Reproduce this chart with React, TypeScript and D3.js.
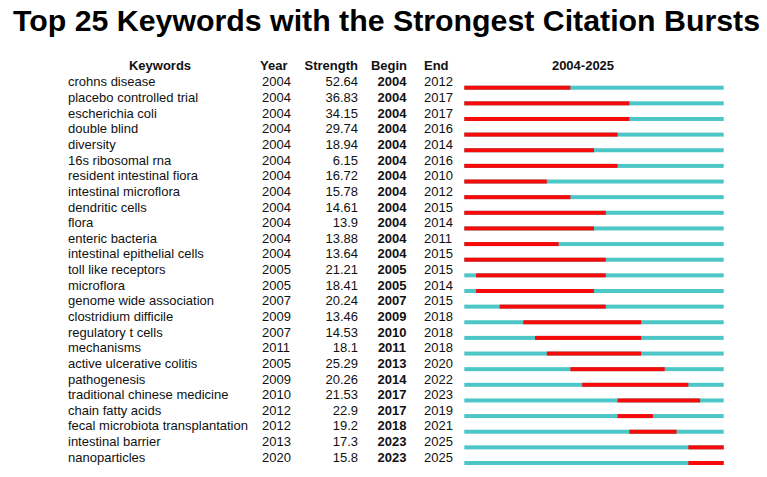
import { useEffect, useRef } from 'react';
import * as d3 from 'd3';

const keywords = [
  'crohns disease', 'placebo controlled trial', 'escherichia coli', 'double blind', 'diversity',
  '16s ribosomal rna', 'resident intestinal fiora', 'intestinal microflora', 'dendritic cells', 'flora',
  'enteric bacteria', 'intestinal epithelial cells', 'toll like receptors', 'microflora',
  'genome wide association', 'clostridium difficile', 'regulatory t cells', 'mechanisms',
  'active ulcerative colitis', 'pathogenesis', 'traditional chinese medicine', 'chain fatty acids',
  'fecal microbiota transplantation', 'intestinal barrier', 'nanoparticles',
];
const years = [2004, 2004, 2004, 2004, 2004, 2004, 2004, 2004, 2004, 2004, 2004, 2004, 2005, 2005, 2007, 2009, 2007, 2011, 2005, 2009, 2010, 2012, 2012, 2013, 2020];
const strengths = ['52.64', '36.83', '34.15', '29.74', '18.94', '6.15', '16.72', '15.78', '14.61', '13.9', '13.88', '13.64', '21.21', '18.41', '20.24', '13.46', '14.53', '18.1', '25.29', '20.26', '21.53', '22.9', '19.2', '17.3', '15.8'];
const begins = [2004, 2004, 2004, 2004, 2004, 2004, 2004, 2004, 2004, 2004, 2004, 2004, 2005, 2005, 2007, 2009, 2010, 2011, 2013, 2014, 2017, 2017, 2018, 2023, 2023];
const ends = [2012, 2017, 2017, 2016, 2014, 2016, 2010, 2012, 2015, 2014, 2011, 2015, 2015, 2014, 2015, 2018, 2018, 2018, 2020, 2022, 2023, 2019, 2021, 2025, 2025];
const firstYear = 2004;
const lastYear = 2025;

const W = 767;
const H = 477;
const FONT = "Arial, 'Liberation Sans', Helvetica, sans-serif";
const RED = '#f70a0a';
const TEAL = '#4cc6c6';

export default function App() {
  const ref = useRef<SVGSVGElement | null>(null);

  useEffect(() => {
    document.body.style.margin = '0';
    const svg = d3.select(ref.current);
    svg.selectAll('*').remove();

    const rows = keywords.map((k, i) => ({
      keyword: k, year: years[i], strength: strengths[i], begin: begins[i], end: ends[i],
    }));

    // timeline scale: each year is one slot, end year inclusive
    const x = d3.scaleLinear().domain([firstYear, lastYear + 1]).range([464.3, 723.7]);
    const y = d3.scaleLinear().domain([0, rows.length - 1]).range([87.7, 463]);

    svg.append('text')
      .attr('x', 13).attr('y', 31)
      .attr('textLength', 747).attr('lengthAdjust', 'spacingAndGlyphs')
      .style('font-family', FONT).style('font-weight', 'bold').style('font-size', '29px')
      .style('fill', '#000')
      .text('Top 25 Keywords with the Strongest Citation Bursts');

    // column headers
    const headers: [string, number, string][] = [
      ['Keywords', 160, 'middle'], ['Year', 260, 'start'], ['Strength', 358, 'end'],
      ['Begin', 389, 'middle'], ['End', 424, 'start'], ['2004-2025', 583, 'middle'],
    ];
    svg.append('g').selectAll('text').data(headers).join('text')
      .attr('x', d => d[1]).attr('y', 70)
      .attr('text-anchor', d => d[2])
      .style('font-family', FONT).style('font-weight', 'bold').style('font-size', '13px')
      .style('fill', '#111')
      .text(d => d[0]);

    const g = svg.append('g').selectAll('g').data(rows).join('g')
      .attr('transform', (_, i) => `translate(0,${y(i)})`);

    const txt = (sel: any) => sel.style('font-family', FONT).style('font-size', '13px').style('fill', '#111');

    g.append('text').attr('x', 68).attr('y', -1.3).call(txt).text(d => d.keyword);
    g.append('text').attr('x', 262).attr('y', -1.3).call(txt).text(d => d.year);
    g.append('text').attr('x', 358).attr('y', -1.3).attr('text-anchor', 'end').call(txt).text(d => d.strength);
    g.append('text').attr('x', 392).attr('y', -1.3).attr('text-anchor', 'middle').call(txt)
      .style('font-weight', 'bold').text(d => d.begin);
    g.append('text').attr('x', 424).attr('y', -1.3).call(txt).text(d => d.end);

    // full span in teal, burst span in red
    g.append('rect')
      .attr('x', x(firstYear)).attr('y', -2)
      .attr('width', x(lastYear + 1) - x(firstYear)).attr('height', 4)
      .attr('fill', TEAL);
    g.append('rect')
      .attr('x', d => x(d.begin)).attr('y', -2)
      .attr('width', d => x(d.end + 1) - x(d.begin)).attr('height', 4)
      .attr('fill', RED);
  }, []);

  return <svg ref={ref} width={W} height={H} style={{ display: 'block', background: '#fff' }} />;
}
